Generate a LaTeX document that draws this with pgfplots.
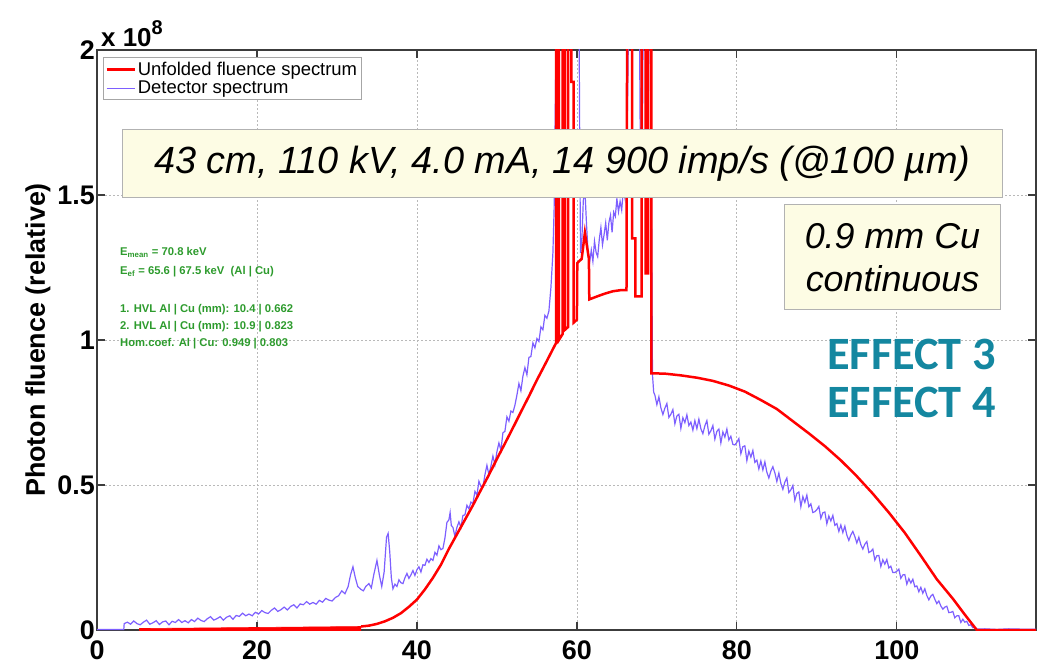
\documentclass[border=0pt]{standalone}
\usepackage{pgfplots}
\pgfplotsset{compat=1.18}
\usepackage{fontspec}
\setmainfont{Liberation Sans}
\newfontfamily\calibri{Carlito}

\definecolor{detblue}{RGB}{125,95,255}
\definecolor{unfred}{RGB}{255,0,0}
\definecolor{notegreen}{RGB}{45,155,45}
\definecolor{effteal}{RGB}{20,135,160}
\definecolor{boxfill}{RGB}{253,252,228}
\definecolor{gridgray}{RGB}{185,185,185}
\definecolor{axisgray}{RGB}{60,60,60}

\begin{document}
\begin{tikzpicture}
\useasboundingbox (0,0) rectangle (1037bp,665bp);
\begin{axis}[
  at={(97bp,35bp)}, anchor=south west,
  scale only axis, width=939bp, height=580bp,
  xmin=0, xmax=117.4, ymin=0, ymax=2,
  xtick={0,20,40,60,80,100},
  xticklabels={0,20,40,60,80,100},
  ytick={0,0.5,1,1.5,2},
  yticklabels={0,0.5,1,1.5,2},
  tick pos=both, xticklabel pos=lower, yticklabel pos=left,
  tick align=inside, major tick length=8bp,
  tick style={axisgray, line width=1.2bp},
  axis line style={axisgray, line width=1.6bp},
  grid=major,
  major grid style={gridgray, dash pattern=on 2bp off 2bp, line width=0.8bp},
  ticklabel style={font=\fontsize{27}{27}\selectfont\bfseries},
  xticklabel style={inner sep=0bp, yshift=-11bp},
  yticklabel style={inner sep=0bp, xshift=-2bp},
  ylabel={Photon fluence (relative)},
  ylabel style={font=\fontsize{27}{30}\selectfont\bfseries,
    at={(axis description cs:-0.0628,0.5)}, anchor=center},
  reverse legend,
  legend style={draw=gray!70, line width=0.8bp, fill=white,
    at={(rel axis cs:0.0064,0.988)}, anchor=north west,
    font=\fontsize{18.5}{20}\selectfont, inner xsep=2bp, inner ysep=2.5bp,
    row sep=0.5bp},
  legend cell align=left,
  legend image code/.code={\draw[#1] (0bp,0bp) -- (28bp,0bp);},
]

% Detector spectrum (measured, noisy)
\addplot[detblue, line width=1.2bp] coordinates {
(0,0.002) (3.35,0.002) (3.4,0.022) (3.8,0.027) (4.2,0.020) (4.6,0.031) (5.0,0.022) (5.4,0.018) (5.8,0.027) (6.2,0.034) (6.6,0.020) (7.0,0.025) (7.4,0.032) (7.8,0.019) (8.2,0.028) (8.6,0.031) (9.0,0.018) (9.4,0.030) (9.8,0.026)
(10.2,0.036) (10.6,0.026) (11.0,0.032) (11.4,0.025) (11.8,0.036) (12.2,0.029) (12.6,0.041) (13.0,0.033) (13.4,0.029) (13.8,0.039) (14.2,0.046) (14.6,0.034) (15.0,0.039) (15.4,0.046) (15.8,0.034) (16.2,0.044) (16.6,0.049) (17.0,0.037) (17.4,0.050) (17.8,0.047) (18.2,0.058) (18.6,0.049) (19.0,0.055) (19.4,0.049) (19.8,0.061)
(20.2,0.055) (20.6,0.067) (21.0,0.060) (21.4,0.057) (21.8,0.068) (22.2,0.076) (22.6,0.064) (23.0,0.070) (23.4,0.079) (23.8,0.069) (24.2,0.081) (24.6,0.087) (25.0,0.076) (25.4,0.090) (25.8,0.087) (26.2,0.098) (26.6,0.089) (27.0,0.095) (27.4,0.089) (27.8,0.102) (28.2,0.096) (28.6,0.109) (29.0,0.103) (29.4,0.100) (29.8,0.112)
(30.2,0.118) (30.6,0.135) (31.0,0.125) (31.4,0.150) (31.7,0.190) (32.0,0.218) (32.3,0.180) (32.6,0.150) (33.0,0.140) (33.3,0.135) (33.6,0.150) (34.0,0.160) (34.3,0.145) (34.6,0.190) (35.0,0.240) (35.3,0.190) (35.6,0.150) (35.9,0.200) (36.2,0.320) (36.4,0.333) (36.6,0.270) (36.8,0.180) (37.0,0.142)
(37.25,0.158) (37.5,0.150) (37.75,0.173) (38.0,0.163) (38.25,0.160) (38.5,0.180) (38.75,0.195) (39.0,0.178) (39.25,0.190) (39.5,0.205) (39.75,0.188) (40.0,0.208) (40.25,0.218) (40.5,0.200) (40.75,0.225) (41.0,0.223) (41.25,0.244) (41.5,0.233) (41.75,0.246) (42.0,0.240)
(42.25,0.268) (42.5,0.258) (42.75,0.290) (43.0,0.277) (43.25,0.281) (43.5,0.317) (43.75,0.371) (44.0,0.380) (44.15,0.405) (44.3,0.360) (44.5,0.354) (44.75,0.323) (45.0,0.354) (45.25,0.373) (45.5,0.354) (45.75,0.395) (46.0,0.397) (46.25,0.430) (46.5,0.418) (46.75,0.441) (47.0,0.436)
(47.25,0.478) (47.5,0.465) (47.75,0.513) (48.0,0.495) (48.25,0.493) (48.5,0.535) (48.75,0.568) (49.0,0.535) (49.25,0.565) (49.5,0.600) (49.75,0.570) (50.0,0.615) (50.25,0.645) (50.5,0.620) (50.75,0.680) (51.0,0.685) (51.25,0.735) (51.5,0.720) (51.75,0.755) (52.0,0.750)
(52.25,0.775) (52.5,0.810) (52.75,0.850) (53.0,0.825) (53.25,0.875) (53.5,0.905) (53.75,0.880) (54.0,0.940) (54.25,0.943) (54.5,0.990) (54.75,0.973) (55.0,1.005) (55.25,0.995) (55.5,1.045) (55.75,1.035) (56.0,1.085) (56.25,1.075) (56.5,1.100) (56.75,1.180) (57.0,1.300) (57.15,1.450) (57.3,1.800) (57.45,2.2)
(58.3,2.2) (58.45,1.85) (58.6,2.2) (60.25,2.2) (60.35,1.7) (60.45,1.30) (60.6,1.33) (60.8,1.48) (61.0,1.52) (61.2,1.40) (61.4,1.30) (61.6,1.27)
(61.8,1.310) (62.0,1.271) (62.2,1.341) (62.4,1.302) (62.6,1.287) (62.8,1.347) (63.0,1.388) (63.2,1.328) (63.4,1.364) (63.6,1.404) (63.8,1.344) (64.0,1.405) (64.2,1.430) (64.4,1.371) (64.6,1.441) (64.8,1.426) (65.0,1.487) (65.2,1.442) (65.4,1.478) (65.6,1.448) (65.8,1.518) (66.0,1.490) (66.2,1.60) (66.35,1.85) (66.5,2.2)
(67.8,2.2) (67.95,1.55) (68.15,1.48) (68.3,2.2) (69.1,2.2) (69.3,1.6) (69.45,0.88) (69.6,0.82)
(69.75,0.810) (70.0,0.777) (70.25,0.804) (70.5,0.766) (70.75,0.743) (71.0,0.765) (71.25,0.781) (71.5,0.733) (71.75,0.744) (72.0,0.760) (72.25,0.711) (72.5,0.738) (72.75,0.744) (73.0,0.695) (73.25,0.732) (73.5,0.715) (73.75,0.742) (74.0,0.705) (74.25,0.717) (74.5,0.689)
(74.75,0.722) (75.0,0.694) (75.25,0.727) (75.5,0.694) (75.75,0.677) (76.0,0.704) (76.25,0.722) (76.5,0.675) (76.75,0.687) (77.0,0.705) (77.25,0.658) (77.5,0.685) (77.75,0.693) (78.0,0.645) (78.25,0.683) (78.5,0.665) (78.75,0.693) (79.0,0.655) (79.25,0.668) (79.5,0.640)
(79.75,0.638) (80.0,0.647) (80.25,0.660) (80.5,0.608) (80.75,0.632) (81.0,0.635) (81.25,0.584) (81.5,0.617) (81.75,0.596) (82.0,0.619) (82.25,0.578) (82.5,0.586) (82.75,0.555) (83.0,0.583) (83.25,0.552) (83.5,0.580) (83.75,0.544) (84.0,0.524) (84.25,0.548) (84.5,0.563)
(84.75,0.542) (85.0,0.512) (85.25,0.541) (85.5,0.506) (85.75,0.485) (86.0,0.510) (86.25,0.524) (86.5,0.474) (86.75,0.483) (87.0,0.498) (87.25,0.447) (87.5,0.471) (87.75,0.476) (88.0,0.425) (88.25,0.460) (88.5,0.440) (88.75,0.465) (89.0,0.425) (89.25,0.435) (89.5,0.405)
(89.75,0.408) (90.0,0.415) (90.25,0.426) (90.5,0.385) (90.75,0.404) (91.0,0.407) (91.25,0.366) (91.5,0.393) (91.75,0.376) (92.0,0.395) (92.25,0.361) (92.5,0.367) (92.75,0.340) (93.0,0.362) (93.25,0.336) (93.5,0.358) (93.75,0.327) (94.0,0.309) (94.25,0.328) (94.5,0.340)
(94.75,0.322) (95.0,0.300) (95.25,0.320) (95.5,0.294) (95.75,0.279) (96.0,0.296) (96.25,0.305) (96.5,0.267) (96.75,0.271) (97.0,0.279) (97.25,0.241) (97.5,0.256) (97.75,0.257) (98.0,0.219) (98.25,0.242) (98.5,0.227) (98.75,0.243) (99.0,0.214) (99.25,0.220) (99.5,0.198)
(99.75,0.198) (100.0,0.203) (100.25,0.210) (100.5,0.178) (100.75,0.190) (101.0,0.191) (101.25,0.158) (101.5,0.177) (101.75,0.162) (102.0,0.175) (102.25,0.149) (102.5,0.152) (102.75,0.132) (103.0,0.147) (103.25,0.127) (103.5,0.142) (103.75,0.119) (104.0,0.104) (104.25,0.117) (104.5,0.123)
(104.75,0.106) (105.0,0.091) (105.25,0.100) (105.5,0.083) (105.75,0.072) (106.0,0.079) (106.25,0.082) (106.5,0.060) (106.75,0.061) (107.0,0.064) (107.25,0.042) (107.5,0.049) (107.75,0.049) (108.0,0.026) (108.25,0.037) (108.5,0.027) (108.75,0.030) (109.0,0.016) (109.25,0.018) (109.5,0.008) (109.75,0.009) (110.0,0.003)
(111.0,0.004) (112.5,0.002) (114.0,0.004) (115.5,0.003) (117.4,0.003)
};
\addlegendentry{Detector spectrum}

% low-energy part of the unfolded spectrum (dense, nearly zero)
\addplot[unfred, fill=unfred, line width=0.6bp, forget plot] coordinates {
(5.3,-0.004) (33,-0.004) (33,0.012) (5.3,0.005)
} -- cycle;

% Unfolded fluence spectrum
\addplot[unfred, line width=2.5bp] coordinates {
(33,0.012) (34,0.015) (35,0.021) (36,0.030) (37,0.042) (38,0.058) (39,0.080) (40,0.105) (41,0.140) (42,0.180) (43,0.225) (44,0.280) (45,0.330) (46,0.380) (47,0.430) (48,0.483) (49,0.535) (50,0.590) (51,0.643) (52,0.697) (53,0.752) (54,0.806) (55,0.862) (56,0.915) (57.4,0.99)
(57.4,2.3) (57.75,2.3) (57.75,1.0) (58.2,1.02) (58.2,2.3) (58.5,2.3) (58.5,1.035) (58.9,1.045) (58.9,2.3) (59.3,2.3) (59.3,1.89) (59.6,1.89) (59.6,1.06) (60.0,1.07)
(60.05,1.265) (60.6,1.28) (61.0,1.37) (61.5,1.28) (61.55,1.14) (62.5,1.15) (63.5,1.16) (64.5,1.168) (65.5,1.172) (66.2,1.172)
(66.3,2.3) (66.9,2.3) (66.9,1.35) (67.3,1.35) (67.3,1.15) (68.1,1.15) (68.1,2.3) (68.6,2.3) (68.6,1.23) (68.9,1.23) (68.9,2.3) (69.3,2.3) (69.3,0.885)
(69.5,0.885) (71,0.884) (73,0.878) (75,0.870) (77,0.859) (79,0.843) (81,0.822) (83,0.793) (85,0.762) (87,0.720) (89,0.678) (91,0.634) (93,0.585) (95,0.530) (97,0.470) (99,0.405) (101,0.335) (103,0.256) (105,0.175) (107,0.108) (108.5,0.053) (110,0.0) (117.4,0.0)
};
\addlegendentry{Unfolded fluence spectrum}
\end{axis}

% annotations, positioned in picture units measured from the top-left corner
\begin{scope}[x=1bp, y=-1bp, yshift=665bp]
  \node[anchor=base west, inner sep=0, font=\fontsize{26}{26}\selectfont\bfseries]
    at (101,47) {x 10\raisebox{12bp}{\fontsize{20}{20}\selectfont 8}};

  \node[draw=gray!60, line width=1bp, fill=boxfill, minimum width=879bp,
    minimum height=68bp, inner sep=0, font=\fontsize{38}{40}\selectfont\itshape]
    at (562.5,164) {43 cm, 110 kV, 4.0 mA, 14 900 imp/s (@100 µm)};

  \node[draw=gray!60, line width=1bp, fill=boxfill, minimum width=215bp,
    minimum height=105bp, inner sep=0, align=center,
    font=\fontsize{36}{43}\selectfont\itshape]
    at (892.5,257.5) {0.9 mm Cu\\continuous};

  \begin{scope}[every node/.style={anchor=base west, inner sep=0, text=notegreen,
      font=\fontsize{11.3}{12}\selectfont\bfseries}]
    \node at (120,256) {E\textsubscript{mean} = 70.8 keV};
    \node at (120,275) {E\textsubscript{ef} = 65.6 | 67.5 keV\ \ (Al | Cu)};
    \node at (120,313) {1. HVL Al | Cu (mm): 10.4 | 0.662};
    \node at (120,330) {2. HVL Al | Cu (mm): 10.9 | 0.823};
    \node at (120,347) {Hom.coef. Al | Cu: 0.949 | 0.803};
  \end{scope}

  \begin{scope}[every node/.style={anchor=base west, inner sep=0, text=effteal,
      font={\calibri\fontsize{46.5}{48}\selectfont\bfseries}}]
    \node at (827,370) {EFFECT 3};
    \node at (827,418) {EFFECT 4};
  \end{scope}
\end{scope}
\end{tikzpicture}
\end{document}
